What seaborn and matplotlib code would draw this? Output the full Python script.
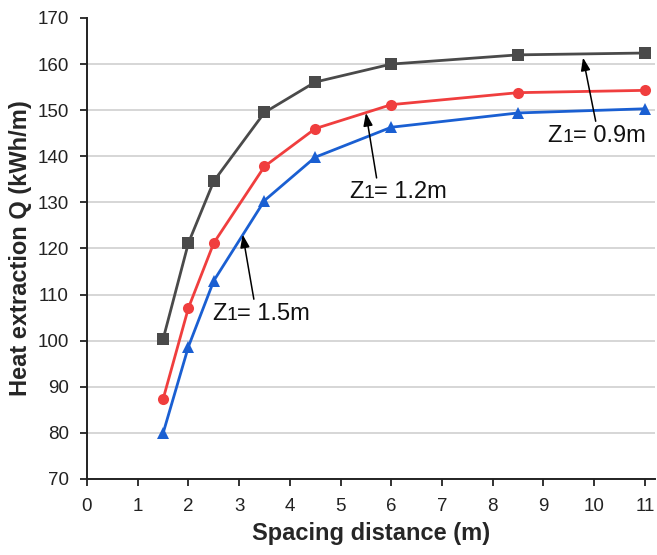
import matplotlib
matplotlib.use("Agg")
import matplotlib.pyplot as plt
import matplotlib.transforms as mtransforms
import seaborn as sns
import pandas as pd

# Spacing distance (m) and heat extraction Q (kWh/m) for three burial depths
spacing = [1.5, 2, 2.5, 3.5, 4.5, 6, 8.5, 11]
q_z09 = [100.3, 121.2, 134.6, 149.5, 156.1, 160.0, 162.0, 162.4]
q_z12 = [87.3, 107.1, 121.2, 137.8, 146.0, 151.2, 153.8, 154.3]
q_z15 = [79.9, 98.7, 113.0, 130.4, 139.8, 146.3, 149.4, 150.3]

series_names = ["Z1= 0.9m", "Z1= 1.2m", "Z1= 1.5m"]
depth_values = ["0.9m", "1.2m", "1.5m"]
x_ticks = list(range(0, 12))
y_ticks = list(range(70, 171, 10))

df = pd.concat(
    [
        pd.DataFrame({"spacing": spacing, "Q": vals, "depth": name})
        for name, vals in zip(series_names, [q_z09, q_z12, q_z15])
    ],
    ignore_index=True,
)

sns.set_theme(style="white")
plt.rcParams["font.family"] = ["Liberation Sans", "DejaVu Sans"]

fig = plt.figure(figsize=(6.57, 5.55), dpi=100)
ax = fig.add_axes([0.1324, 0.137, 0.8646, 0.8306])

palette = dict(zip(series_names, ["#4a4a4a", "#f03e3e", "#1a5fd2"]))
markers = dict(zip(series_names, ["s", "o", "^"]))

sns.lineplot(
    data=df, x="spacing", y="Q", hue="depth", style="depth",
    palette=palette, markers=markers, dashes=False,
    linewidth=2.0, markersize=8, markeredgewidth=0,
    legend=False, ax=ax, zorder=3,
)

ax.set_xlim(0, 11.2)
ax.set_ylim(70, 170)
ax.set_xticks(x_ticks)
ax.set_yticks(y_ticks)
ax.tick_params(axis="both", direction="out", length=5, width=1.3,
               color="#222222", labelsize=13.5, labelcolor="#222222", pad=8)
ax.tick_params(axis="x", pad=9)
ax.tick_params(axis="both", which="both", bottom=True, left=True)

ax.yaxis.grid(True, color="#d0d0d0", linewidth=1.2)
ax.xaxis.grid(False)
ax.set_axisbelow(True)
ax.get_ygridlines()[-1].set_visible(False)

for side in ["top", "right"]:
    ax.spines[side].set_visible(False)
for side in ["left", "bottom"]:
    ax.spines[side].set_color("#222222")
    ax.spines[side].set_linewidth(1.4)

ax.set_xlabel("Spacing distance (m)", fontsize=17, fontweight="bold", labelpad=5)
ax.set_ylabel("Heat extraction Q (kWh/m)", fontsize=17, fontweight="bold", labelpad=4)

arrow_style = dict(arrowstyle="-|>,head_length=0.55,head_width=0.2",
                   color="black", lw=1.1, mutation_scale=14,
                   shrinkA=0, shrinkB=0)

renderer = fig.canvas.get_renderer()


def depth_label(x, y, value, size=17, sub_size=14):
    """Write 'Z1= value' centred at (x, y) with a small index digit."""
    parts = [("Z", size), ("1", sub_size), ("= " + value, size)]
    tmp = [ax.text(0, 0, s, fontsize=fs) for s, fs in parts]
    widths = [t.get_window_extent(renderer).width for t in tmp]
    for t in tmp:
        t.remove()
    total = sum(widths) * 72 / fig.dpi
    offset = -total / 2
    for (s, fs), w in zip(parts, widths):
        tr = ax.transData + mtransforms.ScaledTranslation(
            offset / 72, 0, fig.dpi_scale_trans)
        ax.text(x, y, s, fontsize=fs, ha="left", va="baseline",
                color="#111111", transform=tr, zorder=4)
        offset += w * 72 / fig.dpi


# Depth labels with arrows pointing at their curves
arrow_heads = [(9.78, 161.4), (5.50, 149.4), (3.07, 123.0)]
arrow_tails = [(10.03, 147.6), (5.71, 135.3), (3.29, 109.0)]
label_pos = [(10.05, 143.2), (6.13, 131.0), (3.43, 104.5)]

for value, head, tail, pos in zip(depth_values, arrow_heads, arrow_tails, label_pos):
    ax.annotate("", xy=head, xytext=tail, arrowprops=arrow_style, zorder=4)
    depth_label(pos[0], pos[1], value)

fig.savefig("out.png", dpi=100)
